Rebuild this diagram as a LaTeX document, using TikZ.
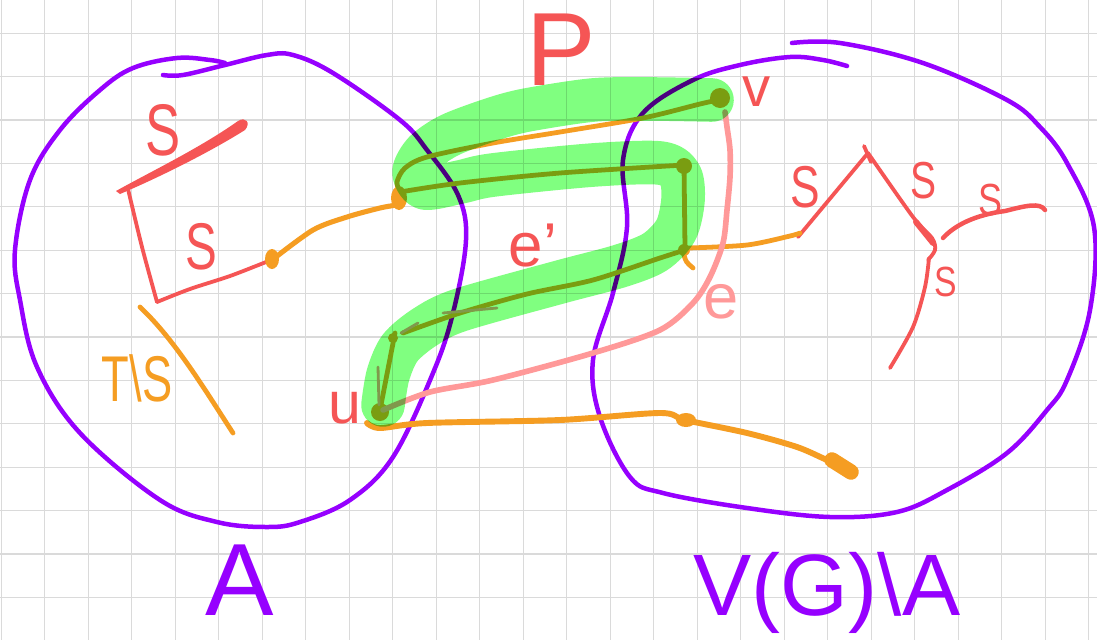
\documentclass[tikz,border=0pt]{standalone}
\usepackage{fontspec}
\setmainfont{Liberation Sans}
\definecolor{pur}{RGB}{150,0,255}
\definecolor{rd}{RGB}{245,85,85}
\definecolor{org}{RGB}{245,157,34}
\definecolor{pnk}{RGB}{255,153,153}
\definecolor{grn}{RGB}{128,255,128}
\definecolor{grd}{RGB}{218,218,218}
\tikzset{
  gridline/.style={grd, line width=0.8pt},
  purline/.style={draw=pur, line width=3.2pt, line cap=round, line join=round},
  redline/.style={draw=rd, line width=2.7pt, line cap=round, line join=round},
  orgline/.style={draw=org, line width=3.4pt, line cap=round, line join=round},
  pnkline/.style={draw=pnk, line width=4pt, line cap=round, line join=round},
  hilite/.style={draw=grn, line width=31pt, line cap=round, line join=round, blend mode=multiply},
  lbl/.style={inner sep=0pt, outer sep=0pt},
}
\newcommand{\fsz}[1]{\fontsize{#1}{#1}\selectfont}
\begin{document}
\begin{tikzpicture}[x=0.025cm,y=-0.025cm]
\fill[white] (0,0) rectangle (1097,640);
\useasboundingbox (0,0) rectangle (1097,640);
\foreach \i in {0,...,25} \draw[gridline] ({1.2+43.5*\i},0) -- ({1.2+43.5*\i},640);
\foreach \j in {0,...,13} \draw[gridline] (0,{33.2+43.4*\j}) -- (1097,{33.2+43.4*\j});

% purple regions
\draw[purline] plot[smooth, tension=0.6] coordinates {(225,63) (210,60) (177,58) (133,68) (100,90) (60,130) (30,180) (15,250) (20,300) (37,367) (80,433) (160,500) (217,522) (267,527) (300,522) (350,500) (393,457) (433,373) (453,313) (466,240) (458,195) (427,150) (400,120) (333,73) (293,55) (267,55) (225,65) (183,75) (163,75)};
\draw[purline] plot[smooth, tension=0.6] coordinates {(847,66) (823,60) (790,57) (740,65) (693,80) (643,113) (623,160) (627,227) (613,293) (593,360) (600,417) (630,477) (663,493) (747,508) (830,517) (897,512) (947,490) (1007,453) (1047,410) (1067,380) (1090,310) (1094,227) (1067,163) (1040,127) (1007,100) (923,63) (840,43) (792,43)};

% red: left box
\fill[rd] (116,191) .. controls (150,172) and (200,148) .. (238,121) .. controls (246,116) and (251,123) .. (245,130) .. controls (210,152) and (160,177) .. (120,194) -- cycle;
\draw[redline] plot[smooth] coordinates {(128,189) (142,247) (157,302)};
\draw[redline] plot[smooth] coordinates {(157,302) (190,289) (230,276) (266,262)};

% red: right tree
\draw[redline] (798,237) -- (868,153);
\draw[redline] (864,146) -- (871,162);
\draw[redline] plot[smooth] coordinates {(868,153) (913,217) (932,238) (935,250) (928,260)};
\draw[draw=rd, line width=4.2pt, line cap=round] (916,222) -- (933,243);
\draw[redline] plot[smooth] coordinates {(929,258) (925,287) (913,327) (890,368)};
\draw[draw=rd, line width=3.2pt, line cap=round] (943,238) .. controls (955,225) and (975,215) .. (1005,211) .. controls (1025,206) and (1040,202) .. (1045,210);

% orange path P
\draw[orgline] plot[smooth] coordinates {(718,100) (700,104) (643,118) (560,132) (493,143) (427,157) (405,168) (397,182) (400,192)};
\draw[orgline] plot[smooth] coordinates {(400,192) (460,183) (560,173) (684,165)};
\draw[orgline] (684,165) -- (685,248);
\draw[orgline] plot[smooth] coordinates {(685,250) (660,258) (593,280) (527,294) (460,313) (403,333)};
\draw[orgline] (395,333) -- (380,410);

% orange connectors
\draw[orgline, line width=3.6pt] plot[smooth] coordinates {(272,260) (313,230) (347,217) (380,208) (397,205)};
\draw[orgline] plot[smooth] coordinates {(688,248) (747,245) (790,236) (800,233)};
\draw[orgline, line width=4.2pt] plot[smooth] coordinates {(367,423) (380,428) (427,423) (560,420) (660,413) (685,420) (747,433) (797,447) (827,460) (843,466)};
\draw[orgline] (684,255) .. controls (686,262) .. (693,268);

% orange blobs
\fill[org] (272,259) ellipse (7 and 10);
\fill[org] (399,198) ellipse (8 and 12);
\fill[org] (686,420) ellipse (10 and 7);
\draw[org, line width=11pt, line cap=round] (832,460) -- (851,472);
\fill[org] (720,98) circle (10);
\fill[org] (684,166) circle (8);
\fill[org] (684,250) circle (6);
\fill[org] (380,412) circle (9);
\fill[org] (393,338) circle (5);

% pink edge e
\draw[pnkline] plot[smooth] coordinates {(383,410) (430,392) (493,380) (593,353) (660,330) (693,303) (710,277) (723,243) (727,210) (730,177) (730,150) (727,127) (725,112)};
\draw[pnk, line width=2pt, line cap=round] (378,367) -- (379,405);
\draw[pnk, line width=2pt, line cap=round] (401,333) -- (418,323);
\draw[pnk, line width=2pt, line cap=round] (443,313) -- (497,308);

% orange stroke near T\S
\draw[orgline] (140,307) .. controls (175,340) and (205,390) .. (233,433);

% green highlight of P
\draw[hilite] plot[smooth, tension=0.5] coordinates {(712,100) (650,99) (593,100) (527,110) (493,119) (450,135) (425,152) (414,172) (425,188) (460,182) (493,175) (593,165) (660,163) (680,175) (683,200) (676,230) (655,252) (620,266) (560,282) (460,310) (425,327) (400,348) (388,375) (383,405)};

% labels
\node[lbl, text=rd] (labP) at (561,50) {\fsz{74}P};
\node[lbl, text=rd] (labv) at (757,92) {\fsz{40}v};
\node[lbl, text=rd] (labu) at (345,408) {\fsz{42}u};
\node[lbl, text=rd] (labep) at (533,246) {\fsz{44}e’};
\node[lbl, text=pnk] (labe) at (721,302) {\fsz{45}e};
\node[lbl, text=pur] (labA) at (240,580) {\fsz{73}A};
\node[lbl, text=pur] (labVA) at (827,593) {\fsz{62}V(G)\textbackslash A};
\node[lbl, text=org] (labTS) at (137,378) {\scalebox{0.7}[1]{\fsz{46}T\textbackslash S}};
\node[lbl, text=rd] (s1) at (163,130) {\scalebox{0.72}[1]{\fsz{52}S}};
\node[lbl, text=rd] (s2) at (201,247) {\scalebox{0.72}[1]{\fsz{47}S}};
\node[lbl, text=rd] (s3) at (805,187) {\scalebox{0.75}[1]{\fsz{42}S}};
\node[lbl, text=rd] (s4) at (923,181) {\scalebox{0.75}[1]{\fsz{37}S}};
\node[lbl, text=rd] (s5) at (990,200) {\scalebox{0.8}[1]{\fsz{32}S}};
\node[lbl, text=rd] (s6) at (946,282) {\scalebox{0.8}[1]{\fsz{30}S}};
\end{tikzpicture}
\end{document}
